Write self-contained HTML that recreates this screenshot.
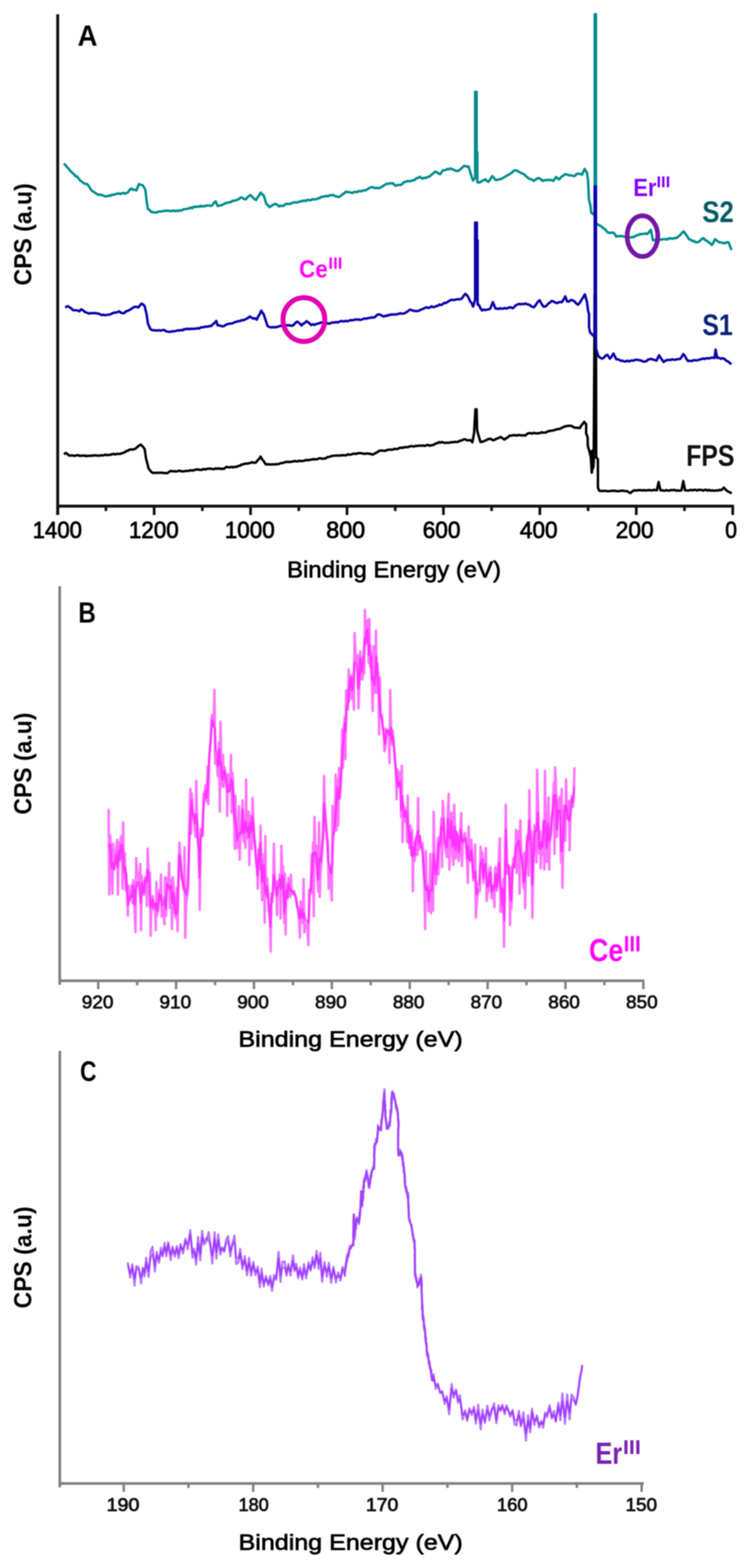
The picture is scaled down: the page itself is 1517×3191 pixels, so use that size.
<!DOCTYPE html>
<html><head><meta charset="utf-8"><title>XPS spectra</title>
<style>html,body{margin:0;padding:0;background:#fff;} body{width:1517px;height:3191px;overflow:hidden;} svg{display:block;} #w{filter:blur(1px);}</style>
</head><body><div id="w">
<svg width="1517" height="3191" viewBox="0 0 1517 3191">
<rect width="1517" height="3191" fill="#fff"/>
<g stroke="#111" stroke-width="6" fill="none">
<line x1="117.5" y1="29" x2="117.5" y2="1048"/>
<line x1="115" y1="1030" x2="1494.5" y2="1030"/>
</g>
<g stroke="#111" stroke-width="5.5">
<line x1="117.5" y1="1030" x2="117.5" y2="1048"/>
<line x1="215.7" y1="1030" x2="215.7" y2="1040"/>
<line x1="313.9" y1="1030" x2="313.9" y2="1048"/>
<line x1="412.0" y1="1030" x2="412.0" y2="1040"/>
<line x1="510.2" y1="1030" x2="510.2" y2="1048"/>
<line x1="608.4" y1="1030" x2="608.4" y2="1040"/>
<line x1="706.6" y1="1030" x2="706.6" y2="1048"/>
<line x1="804.8" y1="1030" x2="804.8" y2="1040"/>
<line x1="902.9" y1="1030" x2="902.9" y2="1048"/>
<line x1="1001.1" y1="1030" x2="1001.1" y2="1040"/>
<line x1="1099.3" y1="1030" x2="1099.3" y2="1048"/>
<line x1="1197.5" y1="1030" x2="1197.5" y2="1040"/>
<line x1="1295.6" y1="1030" x2="1295.6" y2="1048"/>
<line x1="1393.8" y1="1030" x2="1393.8" y2="1040"/>
<line x1="1492.0" y1="1030" x2="1492.0" y2="1048"/>
</g>
<polyline points="130.1,332.7 133.6,336.7 137.1,340.7 140.6,344.5 144.0,348.6 147.5,351.8 151.0,354.9 154.0,358.7 157.1,359.4 160.1,363.3 163.1,367.2 166.2,369.3 169.2,371.8 173.1,374.1 177.0,374.5 180.5,378.3 184.0,384.0 187.5,388.8 190.8,390.2 194.1,392.9 197.3,394.9 200.6,396.7 203.7,396.0 206.7,396.9 209.8,397.5 212.8,399.4 215.8,399.5 218.9,399.3 222.0,397.7 225.2,398.5 228.3,396.1 231.5,396.5 234.6,395.4 237.9,394.1 241.3,393.4 244.6,395.1 248.0,393.2 251.3,392.8 254.7,394.2 258.0,392.7 261.1,390.6 264.1,386.1 267.2,383.6 270.7,386.0 274.2,386.3 277.7,387.5 282.9,374.5 286.8,376.2 290.7,377.0 296.0,386.0 298.6,409.7 301.2,425.4 304.2,426.9 307.3,430.8 310.3,431.9 313.4,432.1 316.6,432.5 319.7,432.1 322.9,430.4 326.0,430.6 329.5,430.1 333.0,429.4 336.4,429.1 339.9,428.7 343.4,429.0 346.9,429.3 350.0,429.5 353.2,428.1 356.3,429.7 359.5,428.9 362.6,429.3 365.7,428.1 368.8,428.5 372.0,426.9 375.1,425.7 378.2,425.4 381.6,424.6 384.9,424.4 388.3,422.1 391.6,423.6 395.0,420.5 398.3,421.5 401.7,420.2 404.8,420.9 408.0,418.8 411.1,420.5 414.3,419.3 417.4,419.7 420.6,418.2 423.7,418.2 426.9,418.4 430.0,419.0 433.0,417.0 436.1,412.1 439.1,409.7 443.0,418.9 446.3,418.5 449.6,417.9 452.8,417.0 456.1,414.9 459.6,413.4 463.1,412.4 466.6,411.7 470.0,411.2 473.5,408.5 477.0,408.4 480.1,407.7 483.3,406.5 486.4,405.4 489.6,402.1 492.7,401.9 496.6,404.9 500.5,405.8 503.6,401.8 506.6,399.4 509.7,396.7 513.6,400.4 517.5,404.6 521.4,407.1 524.5,401.7 527.5,398.1 530.6,392.0 533.9,395.1 537.1,398.0 542.3,414.9 545.6,417.7 548.9,421.5 552.8,418.9 556.7,416.3 560.6,414.9 564.5,416.5 568.5,420.2 571.5,418.5 574.6,418.9 577.6,418.7 580.6,415.9 583.7,414.7 586.7,414.9 590.0,415.4 593.2,413.7 596.5,412.7 599.8,411.7 603.1,411.9 606.4,411.8 609.6,410.2 612.9,409.7 616.2,409.0 619.4,407.7 622.7,409.2 626.0,406.6 629.2,407.2 632.5,407.6 635.7,405.4 639.0,405.8 642.0,405.5 645.1,405.1 648.1,403.5 651.2,403.0 654.2,400.5 657.3,400.6 660.8,399.8 664.3,398.5 667.8,399.5 671.2,397.5 674.7,397.2 678.2,396.7 681.5,398.9 684.7,399.5 688.0,400.8 691.2,400.6 694.5,397.9 697.8,395.3 701.0,393.3 704.3,390.1 707.6,390.7 710.8,390.9 714.1,391.8 717.4,392.7 720.6,390.9 723.9,390.5 727.1,390.9 730.4,388.8 734.0,389.5 737.7,388.3 741.4,387.5 745.0,387.1 748.3,385.1 751.5,382.9 754.8,381.7 758.1,380.6 761.4,381.9 764.6,382.8 767.9,382.2 771.1,383.2 774.2,382.0 777.4,380.2 780.5,378.1 783.7,376.2 786.8,374.0 790.1,374.3 793.3,373.0 796.6,373.5 799.9,372.7 805.1,378.0 808.4,376.8 811.6,376.6 814.9,376.6 818.1,375.3 823.4,370.1 826.9,369.9 830.4,368.3 833.8,369.2 837.3,367.9 840.8,367.0 844.3,366.2 847.8,362.9 851.2,362.0 854.7,359.7 860.0,363.6 863.2,362.0 866.5,362.1 869.8,360.6 873.0,359.7 876.3,357.8 879.5,354.8 882.8,352.5 886.1,349.2 889.6,350.6 893.0,353.1 896.5,354.5 901.7,346.6 904.8,346.4 908.0,345.8 911.1,343.9 914.3,344.3 917.4,342.7 920.5,344.6 923.7,345.2 926.8,347.0 930.0,348.0 933.1,347.9 936.4,345.3 939.6,342.8 942.9,339.3 946.1,337.5 950.0,339.0 954.0,338.8 957.9,351.8 963.1,367.5 967.5,362.0 967.5,187.0 970.5,187.0 970.5,308.0 972.0,310.0 972.0,371.0 974.9,371.4 978.2,370.8 981.5,368.1 984.7,367.0 988.0,364.9 991.2,368.0 994.5,370.1 998.4,364.8 1002.3,358.4 1005.5,361.5 1008.8,366.2 1012.1,366.2 1015.3,365.1 1018.6,364.6 1021.9,363.6 1025.4,361.2 1028.9,359.6 1032.4,357.1 1035.8,355.7 1039.2,353.2 1042.5,351.3 1045.9,347.6 1049.3,346.6 1052.4,347.1 1055.4,349.1 1058.5,350.5 1061.6,352.5 1064.7,353.1 1067.8,355.4 1071.8,359.3 1075.7,362.3 1079.3,364.6 1082.8,365.1 1086.4,368.2 1089.7,366.2 1092.9,363.6 1096.2,362.3 1100.7,364.2 1105.1,368.2 1108.5,366.8 1111.9,366.8 1115.4,365.9 1118.8,366.2 1122.7,366.5 1126.6,368.2 1132.5,360.3 1138.4,365.2 1142.3,360.5 1146.2,358.0 1150.1,354.5 1153.6,355.0 1157.2,356.3 1160.7,357.1 1164.3,357.0 1167.8,358.4 1171.1,357.7 1174.3,353.9 1177.6,353.5 1181.5,354.2 1185.4,355.4 1190.3,343.7 1195.2,351.5 1197.2,366.2 1198.1,381.9 1199.1,405.4 1202.0,417.1 1204.0,432.8 1208.0,436.0 1211.0,434.0 1211.0,29.0 1213.5,29.0 1213.5,455.0 1219.0,458.0 1222.0,459.2 1225.6,461.6 1229.1,464.9 1232.7,467.1 1236.2,471.8 1239.8,473.9 1243.5,473.8 1247.1,473.3 1250.8,474.6 1254.5,481.2 1258.5,480.4 1262.2,480.9 1265.9,480.0 1269.6,481.3 1273.3,481.5 1277.0,481.4 1280.8,482.2 1284.5,483.3 1288.2,482.5 1291.9,481.7 1295.7,479.2 1299.4,478.5 1303.1,476.2 1306.8,476.5 1310.5,475.9 1314.2,475.3 1317.9,476.2 1321.6,472.2 1325.3,467.7 1329.6,488.9 1333.5,488.4 1337.4,488.6 1341.3,486.8 1345.0,487.9 1348.7,487.1 1352.4,486.4 1356.1,486.8 1359.1,487.4 1362.2,485.0 1365.2,484.9 1368.2,485.7 1371.2,485.5 1374.3,484.1 1377.3,484.6 1381.0,481.5 1384.8,478.6 1388.5,474.0 1392.2,470.8 1395.7,476.0 1399.3,480.8 1402.8,486.8 1406.2,487.6 1409.6,490.5 1413.0,490.3 1416.4,492.9 1419.8,493.1 1423.0,492.0 1426.2,489.1 1429.3,486.1 1432.5,484.6 1435.9,488.5 1439.3,490.1 1442.7,492.7 1446.1,495.2 1449.5,498.4 1452.7,493.8 1455.9,486.8 1460.1,489.9 1464.3,493.1 1467.9,493.3 1471.4,494.4 1475.0,495.2 1479.2,493.2 1483.4,493.1 1486.6,501.3 1489.8,509.0" fill="none" stroke="#008c8c" stroke-width="5" stroke-linejoin="round"/>
<polyline points="130.1,924.4 134.0,921.8 137.2,923.9 140.5,927.0 143.7,927.1 146.9,926.9 150.1,927.4 153.3,927.5 156.4,926.4 159.6,926.4 162.8,928.1 166.0,927.0 169.2,927.5 172.5,926.9 175.8,928.4 179.0,927.3 182.3,927.9 185.6,927.1 188.8,927.4 192.1,926.4 195.4,927.0 198.7,927.1 201.9,927.4 205.2,926.6 208.4,926.8 211.7,926.5 215.0,925.2 218.2,926.4 221.5,925.7 224.8,925.5 228.0,924.5 231.3,923.6 234.6,924.9 237.8,923.7 241.1,923.8 244.3,923.7 247.6,922.6 250.7,921.6 253.9,920.5 257.0,918.0 260.2,917.4 263.3,915.3 266.6,914.5 269.9,914.9 273.1,914.1 276.4,912.7 279.9,909.3 283.3,906.7 286.8,904.8 290.7,908.8 294.6,914.0 297.2,932.2 302.5,953.1 306.4,958.6 310.3,962.3 313.4,962.2 316.6,962.6 319.7,961.9 322.9,962.3 326.0,962.1 329.1,962.0 332.3,962.5 335.4,962.5 338.6,963.1 341.7,962.3 346.9,958.4 350.0,958.8 353.2,959.3 356.3,959.1 359.4,959.4 362.5,958.7 365.7,957.7 368.8,959.1 371.9,959.3 375.1,959.2 378.2,958.4 381.5,958.2 384.8,958.2 388.0,956.8 391.3,957.8 394.6,956.9 397.8,956.0 401.1,955.3 404.4,955.8 407.6,956.3 410.8,956.3 414.0,954.3 417.2,955.5 420.4,954.5 423.6,953.8 426.8,953.8 430.0,954.0 433.3,954.5 436.5,954.7 439.8,953.1 443.1,954.2 446.3,953.1 449.6,954.4 452.8,953.7 456.1,954.0 461.3,950.1 464.8,950.9 468.3,951.1 471.8,950.1 475.2,951.1 478.7,949.7 482.2,950.1 485.5,948.0 488.8,947.7 492.0,945.3 495.3,944.9 498.6,943.6 501.9,943.4 505.1,943.2 508.4,942.3 511.6,941.3 514.9,940.7 518.1,942.1 521.4,941.0 524.5,936.7 527.5,934.1 530.6,929.2 534.1,935.2 537.5,939.4 541.0,944.9 544.3,944.8 547.5,944.9 550.8,945.2 554.1,945.1 557.3,945.0 560.6,944.9 563.9,944.5 567.1,944.5 570.4,943.0 573.7,942.2 576.9,942.1 580.2,940.5 583.4,940.0 586.7,939.7 590.0,940.5 593.2,939.4 596.5,939.3 599.8,938.1 603.1,938.7 606.4,938.9 609.6,937.6 612.9,938.4 616.2,938.1 619.4,937.7 622.7,936.1 626.0,936.7 629.2,935.9 632.5,935.8 635.7,934.7 639.0,934.5 642.5,934.7 646.0,934.5 649.5,932.8 652.9,932.7 656.4,933.7 659.9,933.1 663.0,933.0 666.2,930.5 669.3,929.9 672.5,929.1 675.6,927.9 678.9,927.4 682.1,927.3 685.4,927.0 688.7,927.0 691.9,927.3 695.2,926.5 698.4,926.5 701.7,926.6 705.0,926.7 708.2,924.7 711.5,925.3 714.8,925.1 718.0,923.8 721.3,923.1 724.5,923.8 727.8,922.7 731.2,922.3 734.7,922.3 738.1,922.9 741.6,923.5 745.0,923.2 748.1,922.7 751.3,923.4 754.4,923.6 757.6,924.9 760.7,924.5 764.2,922.2 767.6,920.9 771.1,918.0 774.4,917.0 777.6,917.0 780.9,917.3 784.2,917.4 787.4,916.2 790.7,915.4 793.9,914.9 797.2,915.3 800.5,914.7 803.8,913.4 807.0,914.0 810.3,913.4 813.6,911.4 816.9,911.0 820.1,911.4 823.4,910.1 826.7,910.1 829.9,910.1 833.2,908.8 836.5,908.1 839.7,908.1 843.0,908.7 846.2,907.4 849.5,907.5 852.7,907.0 855.9,907.0 859.1,906.9 862.3,906.7 865.4,907.6 868.6,905.9 871.8,905.5 875.0,907.2 878.2,906.2 881.3,905.7 884.5,904.6 887.6,902.2 890.8,901.9 893.9,899.7 897.0,900.8 900.0,899.6 903.0,900.8 906.1,901.2 909.2,901.1 912.2,901.0 915.2,900.8 918.3,900.1 921.4,900.0 924.4,899.6 927.5,899.1 930.5,899.7 933.8,898.6 937.0,896.7 940.2,896.4 943.5,894.5 947.1,893.9 950.7,896.0 954.3,895.9 957.9,895.8 962.0,900.0 965.5,880.0 966.5,861.0 968.0,833.0 970.5,833.0 971.5,875.0 974.0,885.0 978.3,899.5 981.8,899.1 985.3,897.7 988.8,896.5 992.3,894.5 995.8,893.1 999.3,893.0 1002.7,895.4 1006.2,895.8 1009.5,893.5 1012.8,892.1 1016.0,891.2 1019.3,889.2 1023.2,891.9 1027.1,894.5 1030.6,891.7 1034.1,890.1 1037.6,886.6 1041.1,886.6 1044.6,885.8 1048.0,885.5 1051.5,886.5 1055.0,885.5 1058.5,885.3 1062.2,886.3 1066.0,885.8 1069.7,886.5 1074.6,882.1 1077.7,881.3 1080.8,881.8 1084.0,882.2 1087.1,880.8 1090.2,881.8 1093.3,881.9 1096.4,881.5 1099.5,881.4 1102.7,879.6 1105.8,880.6 1108.9,880.2 1112.2,880.1 1115.4,877.7 1118.7,877.3 1122.0,876.5 1125.2,876.2 1128.5,875.3 1132.2,874.1 1135.8,873.2 1139.4,872.9 1143.1,871.3 1146.8,869.1 1150.4,868.0 1154.1,866.9 1157.8,866.4 1161.2,866.4 1164.7,867.1 1168.1,869.7 1171.6,870.3 1175.0,870.4 1180.5,871.4 1183.5,866.2 1186.6,862.7 1189.6,858.4 1193.6,863.6 1193.5,882.0 1196.5,890.0 1197.0,908.0 1200.0,918.0 1203.0,930.0 1205.0,962.0 1207.0,945.0 1209.0,920.0 1211.0,600.0 1213.5,600.0 1214.0,930.0 1217.5,935.0 1217.5,992.0 1220.0,998.5 1225.0,999.4 1228.1,999.0 1231.1,999.0 1234.2,999.1 1237.3,999.7 1240.3,999.6 1243.4,999.1 1246.5,998.8 1249.5,999.1 1252.6,998.6 1255.6,999.5 1258.7,999.8 1261.8,999.2 1264.8,998.6 1267.9,998.8 1271.0,999.1 1274.0,999.6 1277.1,999.4 1280.4,1002.0 1283.7,1003.4 1287.2,1000.3 1290.8,997.7 1293.9,998.3 1297.0,997.9 1300.1,997.6 1303.3,997.4 1306.4,997.7 1309.5,998.1 1312.6,997.5 1315.7,998.1 1318.8,997.6 1321.9,997.2 1325.0,997.8 1328.2,998.1 1331.3,996.8 1334.4,997.5 1337.5,997.7 1341.1,980.7 1344.7,997.7 1347.8,997.6 1350.9,998.5 1353.9,998.6 1357.0,997.4 1360.1,998.5 1363.2,998.3 1366.2,997.2 1369.3,997.6 1372.4,996.9 1375.5,998.3 1378.6,998.0 1381.6,998.5 1384.7,998.3 1387.8,997.7 1391.3,978.9 1394.9,997.7 1398.0,998.0 1401.0,998.2 1404.1,997.8 1407.2,996.9 1410.3,997.9 1413.3,996.7 1416.4,997.0 1419.5,998.2 1422.5,996.8 1425.6,996.9 1428.7,996.9 1431.8,998.5 1434.8,997.1 1437.9,996.7 1441.0,998.4 1444.0,996.9 1447.1,998.4 1450.2,998.0 1453.2,998.4 1456.3,998.6 1459.4,997.9 1462.5,998.3 1465.5,996.8 1468.6,997.7 1474.0,992.3 1477.6,996.4 1481.2,999.5 1485.7,1001.8 1490.1,1004.0" fill="none" stroke="#000" stroke-width="5" stroke-linejoin="round"/>
<polygon points="1201,918 1209,912 1212,930 1211,950 1206,962 1203,945" fill="#000"/>
<polyline points="132.7,625.7 137.9,623.1 141.4,625.1 144.8,627.3 148.3,630.9 151.6,631.3 154.9,631.4 158.1,631.9 161.4,633.6 165.3,629.6 168.9,631.3 172.5,634.6 176.1,636.2 179.7,637.5 182.8,638.1 186.0,636.8 189.1,637.6 192.3,637.0 195.4,637.5 199.3,638.0 203.2,639.2 207.1,641.4 210.4,640.3 213.6,641.6 216.9,640.9 220.2,640.4 223.4,640.0 226.7,638.8 229.8,637.0 233.0,636.3 236.1,636.0 239.3,635.2 242.4,633.6 246.3,636.4 250.2,637.5 253.5,636.8 256.8,633.2 260.0,632.8 263.3,630.9 266.8,629.1 270.2,626.6 273.7,624.4 277.6,624.3 281.6,625.7 284.9,621.7 288.1,617.9 291.4,619.5 294.6,623.1 298.6,640.1 301.2,658.4 306.4,670.1 310.0,671.8 313.6,672.3 317.2,672.2 320.8,672.7 324.1,671.9 327.3,673.0 330.6,671.9 333.8,671.4 337.3,673.7 340.8,674.9 344.3,675.4 347.8,675.0 351.3,674.3 354.8,674.3 358.2,673.4 361.7,672.3 365.2,672.7 368.4,671.6 371.7,672.2 374.9,669.7 378.2,670.1 381.7,668.8 385.2,670.0 388.6,668.9 392.1,669.3 395.6,668.9 399.1,668.8 402.4,667.8 405.6,668.7 408.9,666.1 412.2,666.2 415.8,665.5 419.3,664.4 422.9,665.0 426.4,663.6 430.0,663.6 433.5,659.8 436.9,657.2 440.4,653.1 443.1,662.3 446.4,662.2 449.6,663.1 452.9,664.2 456.1,663.6 459.4,661.3 462.6,659.9 465.9,659.0 469.2,658.4 472.5,658.2 475.7,657.0 479.0,655.3 482.2,654.7 485.5,653.5 488.8,653.4 492.0,651.5 495.3,651.8 498.6,650.3 501.9,648.9 505.1,647.0 508.4,644.0 512.0,646.2 515.5,648.4 519.1,647.7 522.7,650.5 525.8,643.9 528.8,639.4 531.9,632.2 537.1,640.1 544.9,663.6 548.8,665.6 552.8,666.2 555.9,665.6 559.1,666.5 562.2,665.3 565.3,665.4 568.4,663.8 571.6,663.1 574.7,663.5 578.4,663.0 582.0,661.9 585.7,662.1 589.4,662.0 593.3,663.1 597.2,662.0 600.9,657.9 604.6,654.6 607.7,656.1 610.8,658.8 613.9,662.5 617.3,658.7 620.8,657.2 624.2,653.5 627.3,655.8 630.4,658.3 633.5,661.5 637.1,659.8 640.8,661.2 644.5,659.1 648.1,658.6 651.4,657.2 654.7,656.2 658.0,656.6 661.2,656.0 664.4,656.8 667.5,658.5 670.7,658.6 674.1,657.1 677.5,656.1 681.0,656.5 684.4,655.3 687.8,656.4 691.2,654.5 694.5,653.3 697.8,653.9 701.0,654.1 704.3,652.9 707.6,654.0 710.9,652.4 714.1,651.5 717.4,651.8 720.5,651.3 723.5,650.0 726.6,650.6 729.7,649.9 732.7,651.1 735.8,650.6 738.9,649.5 741.9,648.0 745.0,648.8 748.1,647.7 751.3,647.1 754.4,646.5 757.6,646.1 760.7,646.2 764.2,644.9 767.6,641.0 771.1,639.7 775.0,640.6 779.0,643.6 782.0,644.0 785.1,642.5 788.1,642.8 791.1,640.8 794.2,641.3 797.2,639.7 800.6,639.9 803.9,640.0 807.3,639.7 810.7,638.9 814.1,637.8 817.4,637.9 820.8,638.4 824.0,637.3 827.3,635.4 830.5,633.5 833.8,630.5 836.9,630.6 840.1,631.9 843.2,632.8 846.4,632.9 849.5,633.1 852.6,632.6 855.8,630.6 858.9,629.6 862.1,628.3 865.2,626.6 868.6,625.5 871.9,626.5 875.3,626.0 878.6,623.3 882.0,624.9 885.3,624.4 888.7,622.7 892.0,622.1 895.2,619.7 898.5,620.7 901.7,618.8 905.0,616.3 908.2,616.6 911.5,614.3 914.8,612.2 918.1,610.5 921.3,610.1 924.6,610.6 927.9,609.6 931.1,609.1 934.4,608.9 937.6,608.7 940.9,607.0 944.2,601.8 947.5,597.9 950.8,600.6 954.0,605.7 957.1,612.8 960.2,616.7 963.3,624.0 967.5,610.0 967.5,453.0 971.0,453.0 971.0,489.0 972.5,489.0 972.5,620.0 974.9,620.1 978.1,626.9 981.4,631.8 984.8,630.1 988.2,631.0 991.6,630.1 995.0,629.6 998.4,627.9 1003.6,614.9 1008.8,627.9 1011.9,628.0 1015.1,628.8 1018.2,627.2 1021.4,628.3 1024.5,627.9 1027.6,627.0 1030.7,627.8 1033.8,627.0 1036.9,625.8 1040.0,625.3 1043.9,627.3 1047.0,625.0 1050.0,621.4 1053.1,620.1 1056.5,618.5 1059.9,619.3 1063.2,618.5 1066.6,618.9 1070.0,617.5 1073.4,619.3 1076.8,619.8 1080.2,621.9 1083.6,624.4 1087.0,625.3 1090.9,620.6 1094.9,614.5 1098.8,610.9 1102.7,618.3 1106.6,624.0 1109.8,623.8 1113.1,622.0 1116.6,617.7 1120.1,615.6 1123.6,612.2 1127.5,613.9 1131.4,616.2 1134.7,616.6 1138.0,615.1 1141.2,614.6 1144.5,614.9 1147.8,609.0 1151.0,603.1 1154.9,613.6 1158.4,613.8 1161.9,610.8 1165.4,610.9 1169.3,613.0 1173.2,617.3 1177.1,620.1 1180.4,616.4 1183.7,610.9 1187.3,605.1 1190.9,599.2 1195.4,614.9 1197.5,633.2 1199.4,638.5 1199.4,665.9 1201.4,676.3 1204.5,679.4 1207.5,682.9 1211.0,683.0 1211.0,379.5 1213.5,379.5 1213.5,709.0 1218.4,724.7 1222.3,728.2 1226.2,729.9 1229.7,727.9 1233.2,723.6 1236.7,722.0 1241.9,729.9 1245.5,725.6 1249.1,719.4 1255.0,731.2 1258.1,731.3 1261.2,732.3 1264.4,734.3 1267.5,734.1 1270.6,735.1 1273.9,735.7 1277.2,734.0 1280.4,735.5 1283.7,734.5 1286.8,733.4 1290.0,733.9 1293.6,732.2 1297.2,732.1 1300.4,732.8 1303.6,733.2 1306.9,734.4 1310.1,735.9 1313.3,735.7 1316.5,734.9 1319.6,731.8 1322.8,731.2 1325.9,730.3 1329.5,731.6 1333.1,732.7 1336.7,733.9 1342.1,723.1 1345.1,728.1 1348.1,732.1 1351.1,736.6 1354.7,734.1 1358.2,733.0 1361.8,732.1 1365.1,732.7 1368.5,731.2 1371.8,732.0 1375.2,732.2 1378.5,731.1 1381.9,731.0 1385.2,730.3 1388.3,725.6 1391.5,720.4 1394.8,724.8 1398.0,731.0 1401.3,734.8 1404.9,734.3 1408.5,734.9 1412.1,733.0 1415.7,733.0 1418.8,733.4 1421.9,732.7 1425.0,731.7 1428.0,730.8 1431.1,729.6 1434.2,730.6 1437.3,729.4 1440.9,728.9 1444.5,729.4 1448.0,728.0 1451.6,727.7 1455.2,728.5 1457.0,711.4 1460.6,728.5 1464.2,728.1 1467.8,730.1 1471.4,729.1 1475.0,730.3 1478.6,734.0 1482.2,735.4 1485.8,738.6 1489.4,741.1" fill="none" stroke="#0a00aa" stroke-width="5" stroke-linejoin="round"/>
<ellipse cx="618.8" cy="650.3" rx="42.6" ry="44.6" fill="none" stroke="#e000b0" stroke-width="10"/>
<ellipse cx="1308.2" cy="480.6" rx="31.2" ry="41.5" fill="none" stroke="#7216a6" stroke-width="9.5"/>
<text x="66.5" y="1094.5" font-family='"Liberation Sans", Arial, Helvetica, sans-serif' font-size="47.8" font-weight="normal" fill="#000" stroke="#000" stroke-width="1.5" stroke-linejoin="round" textLength="100.4" lengthAdjust="spacingAndGlyphs">1400</text>
<text x="262.4" y="1094.5" font-family='"Liberation Sans", Arial, Helvetica, sans-serif' font-size="47.8" font-weight="normal" fill="#000" stroke="#000" stroke-width="1.5" stroke-linejoin="round" textLength="101.6" lengthAdjust="spacingAndGlyphs">1200</text>
<text x="457.7" y="1094.5" font-family='"Liberation Sans", Arial, Helvetica, sans-serif' font-size="47.8" font-weight="normal" fill="#000" stroke="#000" stroke-width="1.5" stroke-linejoin="round" textLength="101.7" lengthAdjust="spacingAndGlyphs">1000</text>
<text x="664.2" y="1094.5" font-family='"Liberation Sans", Arial, Helvetica, sans-serif' font-size="47.8" font-weight="normal" fill="#000" stroke="#000" stroke-width="1.5" stroke-linejoin="round" textLength="79.4" lengthAdjust="spacingAndGlyphs">800</text>
<text x="860.7" y="1094.5" font-family='"Liberation Sans", Arial, Helvetica, sans-serif' font-size="47.8" font-weight="normal" fill="#000" stroke="#000" stroke-width="1.5" stroke-linejoin="round" textLength="76.9" lengthAdjust="spacingAndGlyphs">600</text>
<text x="1058.6" y="1094.5" font-family='"Liberation Sans", Arial, Helvetica, sans-serif' font-size="47.8" font-weight="normal" fill="#000" stroke="#000" stroke-width="1.5" stroke-linejoin="round" textLength="76.7" lengthAdjust="spacingAndGlyphs">400</text>
<text x="1253.8" y="1094.5" font-family='"Liberation Sans", Arial, Helvetica, sans-serif' font-size="47.8" font-weight="normal" fill="#000" stroke="#000" stroke-width="1.5" stroke-linejoin="round" textLength="77.1" lengthAdjust="spacingAndGlyphs">200</text>
<text x="1476.8" y="1094.5" font-family='"Liberation Sans", Arial, Helvetica, sans-serif' font-size="47.8" font-weight="normal" fill="#000" stroke="#000" stroke-width="1.5" stroke-linejoin="round" textLength="23.9" lengthAdjust="spacingAndGlyphs">0</text>
<text x="158.0" y="93.0" font-family='"Liberation Sans", Arial, Helvetica, sans-serif' font-size="59.6" font-weight="bold" fill="#000" textLength="40.5" lengthAdjust="spacingAndGlyphs">A</text>
<text x="584.6" y="1175.0" font-family='"Liberation Sans", Arial, Helvetica, sans-serif' font-size="46.5" font-weight="normal" fill="#000" stroke="#000" stroke-width="1.3" stroke-linejoin="round" textLength="435.5" lengthAdjust="spacingAndGlyphs">Binding Energy (eV)</text>
<text transform="translate(64.6,579.2) rotate(-90)" x="-1.9" y="-0.5" font-family='"Liberation Sans", Arial, Helvetica, sans-serif' font-size="49.9" font-weight="bold" fill="#000" textLength="208.1" lengthAdjust="spacingAndGlyphs">CPS (a.u)</text>
<text x="1429.9" y="452.2" font-family='"Liberation Sans", Arial, Helvetica, sans-serif' font-size="61.5" font-weight="bold" fill="#005a64" textLength="64.2" lengthAdjust="spacingAndGlyphs">S2</text>
<text x="1429.9" y="682.0" font-family='"Liberation Sans", Arial, Helvetica, sans-serif' font-size="61.6" font-weight="bold" fill="#0a2277" textLength="62.3" lengthAdjust="spacingAndGlyphs">S1</text>
<text x="1397.2" y="948.2" font-family='"Liberation Sans", Arial, Helvetica, sans-serif' font-size="61.9" font-weight="bold" fill="#111" textLength="98.4" lengthAdjust="spacingAndGlyphs">FPS</text>
<text x="609.1" y="565.2" font-family='"Liberation Sans", Arial, Helvetica, sans-serif' font-size="50.0" font-weight="bold" fill="#ff00ff" textLength="58.1" lengthAdjust="spacingAndGlyphs">Ce</text>
<text x="668.6" y="547.4" font-family='"Liberation Sans", Arial, Helvetica, sans-serif' font-size="34.0" font-weight="bold" fill="#ff00ff" textLength="28.7" lengthAdjust="spacingAndGlyphs">III</text>
<text x="1289.4" y="398.7" font-family='"Liberation Sans", Arial, Helvetica, sans-serif' font-size="49.5" font-weight="bold" fill="#8000ff" textLength="47.2" lengthAdjust="spacingAndGlyphs">Er</text>
<text x="1336.7" y="380.6" font-family='"Liberation Sans", Arial, Helvetica, sans-serif' font-size="30.8" font-weight="bold" fill="#8000ff" textLength="28.1" lengthAdjust="spacingAndGlyphs">III</text>
<g stroke="#808080" stroke-width="5.5" fill="none">
<line x1="121.6" y1="1193" x2="121.6" y2="2004"/>
<line x1="119.5" y1="1996" x2="1312" y2="1996"/>
</g>
<g stroke="#808080" stroke-width="5">
<line x1="200.0" y1="1996" x2="200.0" y2="2013"/>
<line x1="279.3" y1="1996" x2="279.3" y2="2005"/>
<line x1="358.6" y1="1996" x2="358.6" y2="2013"/>
<line x1="437.9" y1="1996" x2="437.9" y2="2005"/>
<line x1="517.1" y1="1996" x2="517.1" y2="2013"/>
<line x1="596.4" y1="1996" x2="596.4" y2="2005"/>
<line x1="675.7" y1="1996" x2="675.7" y2="2013"/>
<line x1="755.0" y1="1996" x2="755.0" y2="2005"/>
<line x1="834.3" y1="1996" x2="834.3" y2="2013"/>
<line x1="913.6" y1="1996" x2="913.6" y2="2005"/>
<line x1="992.9" y1="1996" x2="992.9" y2="2013"/>
<line x1="1072.1" y1="1996" x2="1072.1" y2="2005"/>
<line x1="1151.4" y1="1996" x2="1151.4" y2="2013"/>
<line x1="1230.7" y1="1996" x2="1230.7" y2="2005"/>
<line x1="1310.0" y1="1996" x2="1310.0" y2="2013"/>
</g>
<text x="166.5" y="2052.4" font-family='"Liberation Sans", Arial, Helvetica, sans-serif' font-size="37.5" font-weight="normal" fill="#111" stroke="#111" stroke-width="1.5" stroke-linejoin="round" textLength="64.5" lengthAdjust="spacingAndGlyphs">920</text>
<text x="324.8" y="2052.4" font-family='"Liberation Sans", Arial, Helvetica, sans-serif' font-size="37.5" font-weight="normal" fill="#111" stroke="#111" stroke-width="1.5" stroke-linejoin="round" textLength="64.5" lengthAdjust="spacingAndGlyphs">910</text>
<text x="483.1" y="2052.4" font-family='"Liberation Sans", Arial, Helvetica, sans-serif' font-size="37.5" font-weight="normal" fill="#111" stroke="#111" stroke-width="1.5" stroke-linejoin="round" textLength="64.5" lengthAdjust="spacingAndGlyphs">900</text>
<text x="641.6" y="2052.4" font-family='"Liberation Sans", Arial, Helvetica, sans-serif' font-size="37.5" font-weight="normal" fill="#111" stroke="#111" stroke-width="1.5" stroke-linejoin="round" textLength="64.3" lengthAdjust="spacingAndGlyphs">890</text>
<text x="799.9" y="2052.4" font-family='"Liberation Sans", Arial, Helvetica, sans-serif' font-size="37.5" font-weight="normal" fill="#111" stroke="#111" stroke-width="1.5" stroke-linejoin="round" textLength="64.3" lengthAdjust="spacingAndGlyphs">880</text>
<text x="958.2" y="2052.4" font-family='"Liberation Sans", Arial, Helvetica, sans-serif' font-size="37.5" font-weight="normal" fill="#111" stroke="#111" stroke-width="1.5" stroke-linejoin="round" textLength="64.3" lengthAdjust="spacingAndGlyphs">870</text>
<text x="1116.5" y="2052.4" font-family='"Liberation Sans", Arial, Helvetica, sans-serif' font-size="37.5" font-weight="normal" fill="#111" stroke="#111" stroke-width="1.5" stroke-linejoin="round" textLength="64.3" lengthAdjust="spacingAndGlyphs">860</text>
<text x="1274.8" y="2052.4" font-family='"Liberation Sans", Arial, Helvetica, sans-serif' font-size="37.5" font-weight="normal" fill="#111" stroke="#111" stroke-width="1.5" stroke-linejoin="round" textLength="64.3" lengthAdjust="spacingAndGlyphs">850</text>
<text x="159.6" y="1266.5" font-family='"Liberation Sans", Arial, Helvetica, sans-serif' font-size="59.3" font-weight="bold" fill="#000" textLength="35.6" lengthAdjust="spacingAndGlyphs">B</text>
<text transform="translate(64.7,1655.9) rotate(-90)" x="-1.9" y="-0.5" font-family='"Liberation Sans", Arial, Helvetica, sans-serif' font-size="49.9" font-weight="bold" fill="#000" textLength="207.5" lengthAdjust="spacingAndGlyphs">CPS (a.u)</text>
<text x="485.5" y="2130.3" font-family='"Liberation Sans", Arial, Helvetica, sans-serif' font-size="44.2" font-weight="normal" fill="#000" stroke="#000" stroke-width="1.3" stroke-linejoin="round" textLength="456.8" lengthAdjust="spacingAndGlyphs">Binding Energy (eV)</text>
<polyline points="221.1,1646.0 222.5,1820.6 224.4,1700.2 227.0,1772.5 228.9,1818.6 230.3,1717.0 232.1,1770.2 234.5,1754.1 236.9,1724.6 238.7,1709.0 240.1,1820.6 241.6,1714.4 243.7,1748.5 245.9,1704.7 248.0,1700.5 249.5,1808.8 250.9,1673.6 252.6,1786.5 254.3,1736.0 255.7,1811.0 257.0,1776.9 259.0,1820.5 260.3,1863.7 261.7,1803.0 263.6,1832.2 266.2,1820.2 268.1,1801.0 269.5,1838.0 271.4,1791.3 274.0,1855.3 275.9,1897.0 277.3,1746.0 279.1,1778.0 281.5,1777.0 283.9,1801.9 285.7,1758.0 287.1,1893.0 288.7,1782.9 290.9,1821.0 293.2,1820.3 295.5,1785.3 297.7,1796.8 299.3,1844.0 300.7,1726.5 302.0,1758.1 304.0,1790.5 305.3,1775.5 306.7,1904.8 308.4,1833.3 310.7,1823.2 313.1,1850.5 315.4,1839.1 317.1,1893.0 318.5,1795.0 319.9,1863.6 322.1,1851.2 324.2,1811.3 326.4,1832.4 327.8,1779.4 329.2,1865.6 330.8,1854.6 333.1,1847.7 334.7,1881.3 336.1,1785.0 337.8,1864.2 340.3,1787.0 342.8,1803.3 344.5,1756.0 345.9,1848.0 348.1,1790.7 350.3,1891.0 351.7,1785.0 353.5,1801.5 355.9,1858.4 358.4,1868.6 360.2,1807.0 361.6,1895.0 364.1,1756.0 365.5,1714.8 367.1,1740.6 369.5,1784.2 371.8,1794.3 374.2,1811.0 375.8,1724.6 377.2,1908.7 379.1,1838.8 381.8,1819.5 383.7,1799.0 385.1,1693.0 387.6,1605.0 389.0,1697.0 390.4,1614.0 392.6,1666.3 394.7,1661.2 396.9,1692.9 398.3,1703.0 399.7,1589.0 401.3,1667.3 403.7,1721.1 405.3,1705.0 406.7,1852.0 408.6,1686.9 411.2,1694.7 413.1,1701.0 414.5,1615.0 416.2,1615.8 418.6,1597.7 421.1,1631.1 422.8,1560.0 424.2,1636.4 425.6,1546.6 427.7,1518.4 429.1,1510.4 430.5,1462.6 432.3,1454.8 434.9,1476.5 436.7,1404.0 438.1,1554.0 439.6,1546.3 441.8,1555.8 443.9,1580.3 446.1,1510.9 447.6,1651.7 449.0,1469.0 450.5,1546.0 452.6,1600.3 454.1,1536.5 455.5,1601.7 457.0,1560.5 459.1,1572.9 461.3,1587.6 462.8,1660.4 464.2,1575.7 466.0,1609.2 468.5,1610.9 470.3,1536.5 471.7,1654.0 473.6,1573.0 476.1,1639.7 478.0,1727.8 479.4,1619.0 480.9,1685.0 483.0,1726.2 485.2,1707.4 486.7,1641.0 488.1,1749.6 489.6,1700.1 491.7,1700.0 493.9,1628.7 496.1,1713.0 498.2,1694.5 499.7,1725.7 501.1,1586.5 502.6,1705.4 504.8,1678.5 506.3,1651.7 507.7,1760.4 509.2,1659.8 511.3,1697.9 512.8,1727.8 514.2,1623.5 515.7,1664.3 517.8,1700.9 520.0,1723.8 522.1,1757.9 523.6,1767.0 525.0,1808.3 527.0,1728.4 529.1,1769.0 530.5,1680.0 532.3,1771.3 533.7,1832.2 535.2,1786.2 537.4,1738.2 538.9,1877.8 540.3,1701.7 541.8,1825.2 543.9,1787.0 546.1,1823.1 548.2,1855.5 549.7,1843.0 551.1,1936.5 552.6,1818.0 554.8,1835.8 556.3,1814.8 557.7,1717.0 559.2,1785.1 561.3,1808.3 562.8,1799.6 564.2,1862.6 565.7,1793.6 567.9,1799.0 570.0,1778.8 571.5,1869.0 572.9,1721.3 574.4,1765.5 576.5,1762.5 578.7,1878.4 580.2,1778.0 581.6,1901.7 583.1,1800.0 585.2,1828.4 587.4,1786.7 589.5,1811.7 591.0,1825.6 592.4,1780.0 593.9,1819.6 596.1,1817.9 598.2,1813.0 600.4,1821.0 601.9,1823.5 603.3,1832.0 604.8,1844.4 607.0,1850.7 609.1,1874.1 610.6,1908.3 612.0,1834.3 613.8,1841.7 616.4,1878.2 618.2,1788.7 619.6,1897.4 621.4,1881.9 623.8,1883.9 626.2,1891.3 628.0,1923.5 629.4,1810.4 630.9,1813.7 633.0,1808.9 634.5,1738.7 635.9,1817.0 637.4,1714.6 638.9,1864.8 640.3,1662.6 641.8,1724.8 643.9,1720.8 646.1,1783.4 648.2,1815.3 649.7,1673.5 651.1,1825.6 652.6,1776.3 654.8,1752.5 657.0,1718.8 658.5,1703.0 659.9,1579.0 661.5,1643.3 663.9,1675.7 666.2,1704.8 667.8,1713.7 669.2,1808.8 671.1,1766.4 673.8,1799.0 675.7,1832.5 677.1,1640.0 679.0,1699.0 681.7,1685.7 683.6,1576.4 685.0,1690.0 687.0,1586.6 688.9,1679.4 690.3,1563.0 692.2,1624.8 694.9,1578.0 696.8,1484.0 698.2,1563.0 699.7,1505.4 701.9,1458.3 703.4,1544.8 704.8,1404.8 706.3,1431.7 708.5,1443.9 710.0,1362.6 711.4,1426.0 712.8,1381.5 714.9,1374.8 717.1,1422.8 719.2,1398.3 720.6,1444.4 722.0,1288.6 723.9,1329.2 726.6,1343.8 728.5,1333.5 729.9,1441.8 731.4,1403.1 733.6,1325.7 735.8,1379.7 738.0,1383.0 740.2,1336.2 741.7,1370.5 743.1,1241.0 744.5,1311.4 746.6,1270.2 748.8,1261.8 750.9,1349.6 752.3,1259.6 753.7,1357.3 755.2,1335.1 757.4,1401.3 758.9,1447.0 760.3,1315.0 761.8,1410.7 764.0,1393.7 765.5,1283.4 766.9,1410.0 768.4,1350.7 770.6,1385.5 772.1,1494.6 773.5,1378.4 775.1,1461.0 777.4,1454.1 779.7,1483.6 781.3,1481.4 782.7,1529.0 784.4,1523.5 786.8,1483.7 789.1,1485.5 791.5,1493.1 793.2,1552.7 794.6,1404.8 796.1,1478.2 798.3,1515.1 799.8,1486.7 801.2,1510.4 803.1,1532.1 805.8,1564.6 807.7,1626.6 809.1,1565.9 810.5,1600.1 812.6,1585.5 814.8,1570.4 816.9,1662.7 818.3,1558.0 819.7,1713.7 821.1,1638.7 823.2,1673.1 825.3,1659.8 827.4,1644.3 828.8,1713.7 830.2,1618.7 831.6,1688.1 833.7,1726.3 835.8,1680.0 837.9,1740.9 839.3,1690.0 840.7,1814.0 842.1,1714.8 844.3,1752.0 846.4,1710.8 848.6,1702.2 850.0,1740.0 851.4,1624.0 852.8,1729.0 854.9,1700.4 857.0,1722.9 859.1,1727.5 860.5,1716.0 861.9,1761.0 863.9,1791.6 865.8,1890.6 867.2,1732.0 868.6,1813.0 870.7,1803.4 872.8,1854.6 874.9,1822.7 876.3,1737.5 877.7,1859.0 879.7,1836.0 881.7,1853.0 883.1,1652.0 884.9,1758.6 887.3,1799.4 889.8,1775.7 891.5,1706.0 892.9,1779.6 894.4,1702.9 896.5,1715.0 898.6,1665.4 900.1,1765.0 901.5,1630.0 903.0,1646.5 905.3,1716.3 907.5,1730.1 909.8,1744.3 912.0,1649.1 913.6,1615.5 915.0,1770.0 916.7,1714.2 919.1,1653.8 921.6,1739.7 923.3,1760.0 924.7,1637.6 926.0,1671.3 928.0,1746.9 930.0,1692.4 932.0,1702.5 934.0,1752.1 936.0,1737.6 938.0,1675.8 939.3,1654.7 940.7,1762.5 942.2,1715.1 944.5,1703.7 946.8,1695.1 949.0,1711.6 951.2,1755.6 952.8,1796.8 954.2,1681.6 955.6,1752.4 957.7,1748.3 959.8,1709.1 961.9,1750.7 964.0,1792.4 966.1,1786.9 967.5,1718.4 968.9,1867.8 970.7,1841.9 973.1,1809.3 975.5,1815.3 977.3,1811.4 978.7,1723.3 980.0,1751.2 982.1,1734.4 984.1,1796.7 986.1,1755.8 988.2,1744.6 989.5,1725.7 990.9,1833.5 992.4,1819.3 994.5,1813.4 996.6,1769.2 998.8,1764.4 1001.0,1828.1 1003.1,1804.2 1005.2,1816.5 1006.7,1845.7 1008.1,1765.0 1009.6,1764.9 1011.8,1812.8 1014.0,1782.8 1016.2,1736.3 1017.7,1706.0 1019.1,1855.5 1020.5,1816.8 1022.7,1856.1 1024.8,1789.1 1026.3,1926.6 1027.7,1789.4 1029.9,1637.6 1031.3,1777.0 1032.8,1777.7 1034.9,1760.5 1037.0,1777.8 1038.5,1882.5 1039.9,1765.0 1041.2,1849.5 1043.3,1772.3 1045.3,1746.0 1047.3,1765.5 1049.4,1727.5 1050.7,1689.0 1052.1,1777.0 1053.9,1705.5 1056.3,1691.1 1058.1,1818.8 1059.5,1669.4 1061.2,1733.6 1063.7,1746.3 1066.1,1806.8 1067.9,1735.5 1069.3,1848.2 1070.8,1767.6 1072.9,1704.2 1075.0,1698.6 1076.5,1782.0 1077.9,1608.0 1079.2,1690.8 1081.3,1691.0 1082.6,1711.0 1084.0,1867.8 1085.7,1764.4 1088.2,1679.5 1090.6,1689.0 1092.3,1755.0 1093.7,1566.5 1095.5,1633.1 1097.9,1737.3 1099.7,1691.4 1101.1,1767.4 1102.6,1713.9 1104.7,1738.8 1106.8,1669.0 1108.3,1769.8 1109.7,1569.0 1111.2,1706.0 1113.3,1754.2 1115.4,1668.2 1116.9,1622.9 1118.3,1769.8 1119.6,1715.3 1121.7,1698.9 1123.7,1660.0 1125.7,1643.7 1127.8,1592.6 1129.1,1738.0 1130.5,1561.6 1131.9,1592.2 1134.0,1703.5 1136.1,1635.1 1138.2,1627.5 1140.3,1621.6 1142.4,1755.4 1143.8,1605.7 1145.2,1806.6 1147.0,1712.4 1149.4,1639.9 1151.2,1711.0 1152.6,1586.0 1154.3,1638.5 1156.8,1666.0 1158.5,1630.0 1159.9,1730.6 1161.7,1654.1 1164.1,1620.0 1166.5,1642.2 1168.3,1622.9 1169.7,1561.6" fill="none" stroke="#ff00ff" stroke-opacity="0.55" stroke-width="5" stroke-linejoin="round"/>
<polyline points="221.8,1724.1 224.4,1718.0 227.0,1766.0 229.6,1754.8 232.1,1769.0 234.5,1759.0 236.9,1741.0 239.4,1765.0 241.6,1732.6 243.7,1751.3 245.9,1723.1 248.0,1718.7 250.2,1738.1 252.6,1774.9 255.0,1765.0 257.0,1783.5 259.0,1817.7 261.0,1841.5 263.6,1830.8 266.2,1821.8 268.8,1824.8 271.4,1802.8 274.0,1841.5 276.6,1812.0 279.1,1795.8 281.5,1795.6 283.9,1810.9 286.4,1838.3 288.7,1797.3 290.9,1817.5 293.2,1814.3 295.5,1790.6 297.7,1794.9 300.0,1769.8 302.0,1776.3 304.0,1803.0 306.0,1847.1 308.4,1836.4 310.7,1830.6 313.1,1847.3 315.4,1840.7 317.8,1838.1 319.9,1854.1 322.1,1844.9 324.2,1819.2 326.4,1830.2 328.5,1823.2 330.8,1843.2 333.1,1840.5 335.4,1827.0 337.8,1848.7 340.3,1799.2 342.8,1805.9 345.2,1809.1 348.1,1802.4 351.0,1837.6 353.5,1817.4 355.9,1852.8 358.4,1860.2 360.9,1852.9 364.8,1740.0 367.1,1745.0 369.5,1777.7 371.8,1790.3 374.2,1806.7 376.5,1814.2 379.1,1820.5 381.8,1799.5 384.4,1745.2 388.3,1655.5 390.4,1628.4 392.6,1659.4 394.7,1655.9 396.9,1674.6 399.0,1657.0 401.3,1676.4 403.7,1726.4 406.0,1785.9 408.6,1707.5 411.2,1696.1 413.8,1649.4 416.2,1626.7 418.6,1609.8 421.1,1623.9 423.5,1589.7 425.6,1552.4 427.7,1520.5 429.8,1491.8 432.3,1466.5 434.9,1478.5 437.4,1481.2 439.6,1525.9 441.8,1538.1 443.9,1559.3 446.1,1524.2 448.3,1555.7 450.5,1552.9 452.6,1586.6 454.8,1578.1 457.0,1568.9 459.1,1581.2 461.3,1594.9 463.5,1611.3 466.0,1609.7 468.5,1607.7 471.0,1586.9 473.6,1592.3 476.1,1642.7 478.7,1669.1 480.9,1682.6 483.0,1709.5 485.2,1700.4 487.4,1695.8 489.6,1695.6 491.7,1692.9 493.9,1647.5 496.1,1695.5 498.2,1681.8 500.4,1671.7 502.6,1692.4 504.8,1682.9 507.0,1702.8 509.2,1674.2 511.3,1693.0 513.5,1662.0 515.7,1677.8 517.8,1708.7 520.0,1731.4 522.1,1760.9 524.3,1782.1 527.0,1739.5 529.8,1715.2 533.0,1794.5 535.2,1790.8 537.4,1760.4 539.6,1809.5 541.8,1819.0 543.9,1804.1 546.1,1833.8 548.2,1861.2 550.4,1885.9 552.6,1830.2 554.8,1824.3 557.0,1780.4 559.2,1786.1 561.3,1808.8 563.5,1823.3 565.7,1805.0 567.9,1804.7 570.0,1789.0 572.2,1809.7 574.4,1781.9 576.5,1784.5 578.7,1858.5 580.9,1840.9 583.1,1813.0 585.2,1827.1 587.4,1799.1 589.5,1811.1 591.7,1809.3 593.9,1814.9 596.1,1815.9 598.2,1814.9 600.4,1821.7 602.6,1826.9 604.8,1842.1 607.0,1850.2 609.1,1868.6 611.3,1867.5 613.8,1849.8 616.4,1867.9 618.9,1858.9 621.4,1868.8 623.8,1872.3 626.2,1879.2 628.7,1875.1 630.9,1823.1 633.0,1808.4 635.2,1774.5 637.4,1737.1 639.6,1735.1 641.8,1739.3 643.9,1735.7 646.1,1772.1 648.2,1790.1 650.4,1747.1 652.6,1754.7 654.8,1729.6 657.0,1698.5 659.2,1636.0 661.5,1654.4 663.9,1685.9 666.2,1715.4 668.5,1752.8 671.1,1761.0 673.8,1777.3 676.4,1755.9 679.0,1700.2 681.7,1678.5 684.3,1643.4 687.0,1602.8 689.6,1626.8 692.2,1610.4 694.9,1569.2 697.5,1529.4 699.7,1506.2 701.9,1471.4 704.1,1486.9 706.3,1438.2 708.5,1434.8 710.7,1403.3 712.8,1384.4 714.9,1378.1 717.1,1404.7 719.2,1387.8 721.3,1351.1 723.9,1346.9 726.6,1358.5 729.2,1400.8 731.4,1391.5 733.6,1339.5 735.8,1366.5 738.0,1363.0 740.2,1329.5 742.4,1299.9 744.5,1309.3 746.6,1284.9 748.8,1280.0 750.9,1332.9 753.0,1312.8 755.2,1334.1 757.4,1383.5 759.6,1378.4 761.8,1394.3 764.0,1379.5 766.2,1335.7 768.4,1361.0 770.6,1393.9 772.8,1427.5 775.1,1458.0 777.4,1460.8 779.7,1485.4 782.0,1499.9 784.4,1514.1 786.8,1488.1 789.1,1487.0 791.5,1489.5 793.9,1496.7 796.1,1481.0 798.3,1505.8 800.5,1498.6 803.1,1531.7 805.8,1564.3 808.4,1587.5 810.5,1601.7 812.6,1596.1 814.8,1590.2 816.9,1648.8 819.0,1620.5 821.1,1640.0 823.2,1663.1 825.3,1657.5 827.4,1650.6 829.5,1666.7 831.6,1686.2 833.7,1716.0 835.8,1695.1 837.9,1738.5 840.0,1742.6 842.1,1724.1 844.3,1740.8 846.4,1710.5 848.6,1699.7 850.7,1691.0 852.8,1714.7 854.9,1702.1 857.0,1720.1 859.1,1727.4 861.2,1738.7 863.9,1784.9 866.5,1809.0 868.6,1811.3 870.7,1804.5 872.8,1834.2 874.9,1814.0 877.0,1812.0 879.7,1811.7 882.4,1738.0 884.9,1755.2 887.3,1778.7 889.8,1763.5 892.2,1734.8 894.4,1714.3 896.5,1717.1 898.6,1682.7 900.8,1687.0 903.0,1666.6 905.3,1708.1 907.5,1716.1 909.8,1724.3 912.0,1666.9 914.3,1702.8 916.7,1706.2 919.1,1670.6 921.6,1722.8 924.0,1716.0 926.0,1682.8 928.0,1728.7 930.0,1696.4 932.0,1703.0 934.0,1733.2 936.0,1725.0 938.0,1688.4 940.0,1706.4 942.2,1714.6 944.5,1709.8 946.8,1706.6 949.0,1718.6 951.2,1747.0 953.5,1722.6 955.6,1750.2 957.7,1750.8 959.8,1730.4 961.9,1758.4 964.0,1786.5 966.1,1786.3 968.2,1773.6 970.7,1819.8 973.1,1797.7 975.5,1798.7 978.0,1756.9 980.0,1758.5 982.1,1749.2 984.1,1787.4 986.1,1763.7 988.2,1757.8 990.2,1777.1 992.4,1804.7 994.5,1802.5 996.6,1777.2 998.8,1775.6 1001.0,1815.1 1003.1,1802.1 1005.2,1810.7 1007.4,1795.4 1009.6,1779.1 1011.8,1805.9 1014.0,1785.9 1016.2,1756.1 1018.4,1800.4 1020.5,1810.1 1022.7,1841.4 1024.8,1808.9 1027.0,1872.7 1030.6,1689.2 1032.8,1761.2 1034.9,1762.5 1037.0,1784.5 1039.2,1825.6 1041.2,1833.1 1043.3,1780.8 1045.3,1758.9 1047.3,1764.6 1049.4,1735.7 1051.4,1722.7 1053.9,1718.0 1056.3,1710.8 1058.8,1730.7 1061.2,1742.6 1063.7,1754.9 1066.1,1796.0 1068.6,1784.7 1070.8,1767.6 1072.9,1719.9 1075.0,1706.8 1077.2,1669.8 1079.2,1705.1 1081.3,1717.8 1083.3,1800.4 1085.7,1761.5 1088.2,1697.7 1090.6,1690.6 1093.0,1685.3 1095.5,1653.3 1097.9,1725.0 1100.4,1727.9 1102.6,1714.1 1104.7,1723.0 1106.8,1675.2 1109.0,1669.8 1111.2,1694.1 1113.3,1725.6 1115.4,1676.7 1117.6,1711.0 1119.6,1704.6 1121.7,1691.7 1123.7,1665.2 1125.7,1652.4 1127.8,1618.6 1129.8,1630.2 1131.9,1618.5 1134.0,1688.4 1136.1,1650.7 1138.2,1649.3 1140.3,1649.0 1142.4,1732.5 1144.5,1728.5 1147.0,1702.2 1149.4,1651.0 1151.9,1638.8 1154.3,1646.8 1156.8,1667.5 1159.2,1670.0 1161.7,1655.8 1164.1,1626.5 1166.5,1631.0 1169.0,1600.9" fill="none" stroke="#ff00ff" stroke-opacity="0.55" stroke-width="4.5" stroke-linejoin="round"/>
<text x="1199.2" y="1955.6" font-family='"Liberation Sans", Arial, Helvetica, sans-serif' font-size="64.3" font-weight="bold" fill="#ff00ff" textLength="70.1" lengthAdjust="spacingAndGlyphs">Ce</text>
<text x="1269.9" y="1936.4" font-family='"Liberation Sans", Arial, Helvetica, sans-serif' font-size="43.8" font-weight="bold" fill="#ff00ff" textLength="35.0" lengthAdjust="spacingAndGlyphs">III</text>
<g stroke="#808080" stroke-width="5.5" fill="none">
<line x1="121.8" y1="2138.6" x2="121.8" y2="3027"/>
<line x1="119.5" y1="3019" x2="1311" y2="3019"/>
</g>
<g stroke="#808080" stroke-width="5">
<line x1="252.0" y1="3019" x2="252.0" y2="3036"/>
<line x1="383.8" y1="3019" x2="383.8" y2="3028"/>
<line x1="515.6" y1="3019" x2="515.6" y2="3036"/>
<line x1="647.4" y1="3019" x2="647.4" y2="3028"/>
<line x1="779.2" y1="3019" x2="779.2" y2="3036"/>
<line x1="911.1" y1="3019" x2="911.1" y2="3028"/>
<line x1="1042.9" y1="3019" x2="1042.9" y2="3036"/>
<line x1="1174.7" y1="3019" x2="1174.7" y2="3028"/>
<line x1="1306.5" y1="3019" x2="1306.5" y2="3036"/>
</g>
<text x="216.9" y="3075.3" font-family='"Liberation Sans", Arial, Helvetica, sans-serif' font-size="36.5" font-weight="normal" fill="#111" stroke="#111" stroke-width="1.5" stroke-linejoin="round" textLength="67.1" lengthAdjust="spacingAndGlyphs">190</text>
<text x="485.8" y="3075.3" font-family='"Liberation Sans", Arial, Helvetica, sans-serif' font-size="36.5" font-weight="normal" fill="#111" stroke="#111" stroke-width="1.5" stroke-linejoin="round" textLength="61.5" lengthAdjust="spacingAndGlyphs">180</text>
<text x="744.9" y="3075.3" font-family='"Liberation Sans", Arial, Helvetica, sans-serif' font-size="36.5" font-weight="normal" fill="#111" stroke="#111" stroke-width="1.5" stroke-linejoin="round" textLength="66.3" lengthAdjust="spacingAndGlyphs">170</text>
<text x="1012.1" y="3075.3" font-family='"Liberation Sans", Arial, Helvetica, sans-serif' font-size="36.5" font-weight="normal" fill="#111" stroke="#111" stroke-width="1.5" stroke-linejoin="round" textLength="62.2" lengthAdjust="spacingAndGlyphs">160</text>
<text x="1273.7" y="3075.3" font-family='"Liberation Sans", Arial, Helvetica, sans-serif' font-size="36.5" font-weight="normal" fill="#111" stroke="#111" stroke-width="1.5" stroke-linejoin="round" textLength="64.3" lengthAdjust="spacingAndGlyphs">150</text>
<text x="162.9" y="2199.7" font-family='"Liberation Sans", Arial, Helvetica, sans-serif' font-size="58.1" font-weight="bold" fill="#000" textLength="33.5" lengthAdjust="spacingAndGlyphs">C</text>
<text transform="translate(64.7,2660.9) rotate(-90)" x="-1.9" y="-0.5" font-family='"Liberation Sans", Arial, Helvetica, sans-serif' font-size="49.9" font-weight="bold" fill="#000" textLength="207.5" lengthAdjust="spacingAndGlyphs">CPS (a.u)</text>
<text x="485.8" y="3153.8" font-family='"Liberation Sans", Arial, Helvetica, sans-serif' font-size="45.2" font-weight="normal" fill="#000" stroke="#000" stroke-width="1.3" stroke-linejoin="round" textLength="456.5" lengthAdjust="spacingAndGlyphs">Binding Energy (eV)</text>
<polyline points="260.2,2569.2 265.1,2599.6 269.5,2572.8 273.9,2616.2 277.7,2576.6 282.3,2579.0 287.3,2611.8 290.9,2579.9 294.3,2597.7 297.7,2559.6 302.5,2598.6 306.7,2546.5 310.6,2537.2 315.3,2587.5 319.1,2547.7 323.7,2569.8 327.7,2539.3 331.1,2557.0 335.2,2529.5 338.7,2556.8 342.5,2528.1 347.5,2564.3 351.3,2537.0 356.0,2557.4 360.1,2535.7 363.7,2560.5 367.7,2532.0 372.7,2550.8 377.6,2520.8 382.4,2542.3 387.4,2503.5 392.1,2559.5 395.5,2541.5 399.3,2573.6 403.4,2517.1 407.8,2564.8 411.4,2504.9 415.2,2532.6 420.1,2526.2 424.9,2507.5 428.5,2532.2 432.2,2571.6 437.0,2508.0 440.6,2561.2 444.4,2512.2 448.8,2553.0 452.5,2538.7 456.6,2547.6 460.6,2522.5 464.5,2515.6 469.0,2556.5 472.6,2532.5 477.5,2514.6 480.9,2572.2 485.5,2569.4 488.9,2541.4 493.8,2582.4 498.5,2556.4 503.0,2595.5 507.1,2559.8 511.4,2596.4 515.7,2568.1 520.2,2595.1 524.8,2577.8 529.1,2619.5 532.6,2581.7 537.0,2618.5 541.5,2596.9 546.4,2615.7 550.3,2596.8 553.9,2626.9 558.0,2595.2 562.5,2604.4 567.2,2547.6 571.2,2608.9 574.8,2567.6 579.6,2567.2 583.4,2596.0 587.2,2572.5 591.6,2596.1 596.4,2554.7 599.9,2586.5 603.3,2571.8 607.2,2601.2 610.8,2579.4 615.6,2603.9 619.0,2572.8 623.4,2601.6 628.4,2569.1 632.5,2585.8 636.7,2558.9 640.5,2580.5 644.7,2545.7 648.8,2582.2 652.3,2549.2 655.9,2608.3 660.7,2568.8 665.6,2598.2 669.7,2569.7 674.3,2610.6 678.9,2578.3 683.9,2609.9 688.5,2589.3 693.3,2605.9 697.4,2578.4 701.9,2589.1 702.1,2596.6 702.3,2581.9 702.6,2588.7 703.0,2579.5 703.5,2583.2 703.6,2573.1 704.4,2578.6 704.6,2568.2 705.1,2572.4 705.8,2558.9 707.2,2565.8 706.8,2553.1 708.6,2559.9 709.1,2549.4 710.3,2556.2 711.0,2540.2 711.0,2548.8 712.7,2535.0 714.5,2540.9 717.3,2532.6 719.8,2534.4 719.5,2524.8 719.0,2530.6 719.6,2519.2 720.3,2526.4 720.3,2513.7 719.0,2517.9 719.2,2505.4 719.5,2510.6 719.6,2500.7 720.3,2506.1 719.7,2493.3 719.3,2498.8 720.4,2486.8 719.5,2492.0 720.2,2481.2 719.4,2487.7 719.9,2477.8 719.8,2480.8 720.3,2471.6 720.6,2477.6 720.8,2471.8 720.9,2482.6 720.0,2476.5 721.2,2490.3 721.7,2481.7 721.3,2496.5 720.8,2488.2 720.7,2501.7 721.8,2495.8 721.2,2506.7 722.2,2502.3 721.7,2512.8 721.7,2504.8 722.6,2521.1 722.8,2505.7 722.5,2512.6 723.1,2500.5 722.9,2508.1 723.4,2494.4 725.0,2500.2 725.2,2489.1 724.9,2493.3 725.0,2482.3 725.6,2489.3 726.8,2477.4 728.0,2487.2 729.3,2482.6 731.0,2491.1 731.3,2479.4 731.6,2484.9 731.7,2471.5 732.2,2482.3 732.2,2467.0 733.1,2475.0 733.3,2460.0 733.7,2465.7 734.2,2455.3 733.7,2462.8 734.8,2450.4 733.8,2454.1 734.7,2443.1 734.0,2448.4 735.0,2435.9 734.8,2443.5 735.5,2430.9 735.1,2437.7 735.1,2423.5 735.4,2429.5 736.4,2425.2 735.7,2433.6 735.8,2429.9 736.6,2444.7 736.7,2436.6 736.3,2447.9 737.0,2444.7 738.0,2455.5 737.2,2443.7 737.4,2448.4 738.4,2439.9 738.8,2443.7 738.0,2431.0 739.6,2439.2 739.7,2423.7 739.0,2431.9 740.0,2420.4 740.6,2425.6 739.3,2415.9 740.2,2417.7 740.7,2405.5 741.5,2416.4 740.6,2403.5 741.1,2410.1 741.8,2397.9 743.6,2404.0 744.2,2391.8 744.2,2397.3 746.0,2384.5 747.3,2388.5 746.5,2381.2 746.8,2395.0 747.6,2388.9 748.6,2400.5 749.4,2397.6 750.5,2409.2 749.7,2401.3 750.4,2414.3 751.0,2409.3 751.8,2418.0 753.1,2406.3 752.4,2414.1 752.9,2402.9 753.8,2408.2 753.8,2392.7 754.6,2399.0 755.6,2386.4 756.0,2394.4 757.4,2381.7 757.0,2386.2 759.5,2374.4 761.8,2379.0 761.0,2366.1 762.1,2376.0 762.4,2362.5 761.4,2370.4 762.6,2358.0 762.3,2361.9 761.4,2349.3 762.4,2355.4 761.8,2341.5 762.6,2348.3 762.8,2335.2 762.2,2343.5 761.8,2332.8 763.1,2339.2 763.3,2326.5 764.7,2330.9 765.7,2318.0 767.4,2324.5 768.0,2316.0 768.2,2320.8 768.6,2305.9 768.8,2312.1 769.1,2303.9 769.5,2305.8 769.4,2295.5 770.3,2299.3 769.5,2289.7 772.5,2300.1 776.0,2292.2 776.3,2300.8 776.4,2287.3 775.9,2291.7 776.2,2279.6 777.4,2284.4 777.2,2276.3 777.9,2279.2 778.1,2268.4 778.3,2273.6 779.2,2263.8 779.4,2268.2 779.7,2257.3 779.2,2263.7 780.5,2250.7 779.9,2254.8 780.1,2241.3 780.6,2249.2 781.5,2236.7 781.8,2244.1 781.3,2233.2 781.6,2237.3 782.1,2223.2 781.9,2231.2 782.9,2216.5 783.1,2229.7 783.2,2224.0 782.6,2237.2 783.5,2229.4 782.8,2242.9 783.6,2238.5 784.0,2250.5 783.8,2240.8 783.6,2254.0 784.8,2248.5 783.4,2260.9 784.1,2253.5 785.3,2265.5 785.0,2259.4 784.2,2273.0 784.3,2268.0 785.5,2280.5 785.3,2272.8 786.1,2285.1 786.4,2278.4 787.2,2291.7 787.6,2286.4 787.4,2297.1 787.8,2294.6 791.0,2297.3 792.9,2283.5 793.7,2291.1 794.3,2278.8 794.6,2284.2 794.8,2271.1 794.4,2280.7 795.7,2266.9 795.6,2271.5 794.9,2259.7 796.2,2265.7 796.6,2257.1 797.0,2263.5 796.8,2250.3 797.3,2257.2 796.5,2243.4 797.5,2250.6 796.6,2235.6 797.8,2244.7 797.2,2231.4 798.2,2239.0 798.0,2222.7 798.4,2232.9 799.3,2220.8 799.8,2230.5 802.2,2224.9 803.1,2237.9 803.4,2233.5 805.6,2244.4 805.2,2240.3 805.9,2254.2 807.1,2248.9 807.8,2260.1 808.7,2254.6 810.0,2263.6 808.8,2260.7 810.5,2271.7 810.5,2266.1 810.3,2277.3 810.3,2271.0 810.8,2285.8 811.5,2279.1 811.8,2288.0 811.8,2284.1 811.6,2296.2 811.0,2290.8 811.2,2302.5 810.5,2296.4 811.1,2310.2 810.6,2304.1 810.4,2314.3 811.0,2309.5 810.4,2323.1 810.4,2314.2 810.7,2327.2 810.9,2321.3 810.5,2332.2 810.4,2326.6 810.3,2340.7 810.7,2335.8 811.6,2347.3 810.5,2341.3 811.5,2351.4 811.5,2346.0 813.0,2352.0 814.7,2339.7 815.8,2348.2 817.1,2344.5 817.4,2352.7 818.6,2347.2 819.1,2359.7 820.0,2352.5 820.4,2364.0 820.0,2358.5 820.4,2372.6 822.0,2367.0 821.6,2377.5 822.2,2372.8 822.0,2386.4 822.7,2375.9 823.2,2388.4 823.2,2384.5 824.7,2396.2 823.5,2391.4 824.2,2403.6 824.0,2398.5 824.2,2409.1 825.1,2402.8 824.7,2414.9 824.9,2411.5 827.0,2425.4 827.3,2415.0 827.9,2428.4 828.7,2422.9 829.6,2436.8 831.3,2427.9 831.3,2440.4 830.9,2434.7 831.1,2448.1 830.9,2441.4 832.1,2454.8 831.3,2449.2 831.5,2459.7 832.4,2456.6 832.2,2465.5 832.2,2460.0 832.2,2471.9 832.6,2468.3 832.7,2480.9 832.4,2473.7 833.7,2486.0 834.1,2481.2 835.9,2490.3 835.6,2488.2 837.8,2496.6 838.3,2492.6 838.7,2504.6 838.7,2499.0 840.2,2511.8 839.5,2503.5 840.4,2515.1 841.1,2510.2 841.8,2523.1 842.6,2520.2 842.7,2528.1 844.4,2524.0 844.2,2536.9 843.9,2527.7 843.9,2541.9 844.7,2538.1 845.3,2546.2 844.9,2544.4 844.6,2556.3 844.8,2549.6 845.3,2558.8 844.2,2554.2 845.0,2565.8 844.8,2560.1 844.4,2572.1 844.4,2564.4 845.2,2576.7 844.9,2573.5 845.3,2586.9 844.7,2577.6 844.7,2590.2 845.1,2584.5 845.2,2596.8 845.3,2588.8 846.6,2601.3 846.8,2595.1 848.2,2608.3 847.9,2601.9 849.7,2613.5 849.5,2608.2 850.0,2620.1 851.8,2609.9 853.5,2614.5 854.4,2601.3 856.4,2609.6 857.1,2593.9 857.8,2609.1 858.1,2599.8 858.9,2614.4 858.1,2610.7 857.7,2618.9 858.9,2615.4 858.0,2627.5 858.1,2622.3 858.7,2635.0 858.6,2626.6 859.1,2636.6 858.8,2634.6 858.8,2644.1 859.2,2639.3 859.4,2649.6 859.0,2647.6 860.2,2657.5 859.4,2651.8 859.1,2665.4 860.6,2657.8 860.0,2667.6 860.8,2665.4 860.3,2677.8 861.1,2672.0 860.3,2683.2 861.5,2677.0 861.7,2688.4 862.7,2680.8 863.2,2696.2 863.3,2688.3 863.0,2702.4 864.0,2696.1 864.2,2707.3 864.9,2700.6 866.1,2714.4 865.7,2707.2 865.7,2723.4 866.3,2716.9 866.3,2727.9 867.6,2722.1 867.0,2733.3 866.9,2730.0 868.3,2737.8 868.5,2732.2 869.0,2743.7 868.8,2742.5 868.5,2751.3 869.3,2747.1 869.4,2758.2 871.0,2753.2 871.6,2763.5 872.4,2757.3 872.5,2769.5 872.8,2765.5 873.0,2776.2 874.8,2770.6 875.0,2784.7 875.3,2777.0 876.8,2790.2 876.3,2783.4 877.5,2794.1 878.5,2787.8 877.9,2802.1 878.5,2795.7 879.1,2808.6 879.8,2804.3 881.1,2809.8 882.6,2797.0 887.4,2826.5 891.4,2815.7 896.4,2835.3 900.4,2830.9 905.5,2857.2 909.6,2841.3 914.6,2878.0 919.6,2816.8 923.6,2844.3 928.6,2827.5 932.8,2854.8 936.6,2839.2 942.0,2888.8 947.0,2870.2 951.4,2891.4 955.9,2866.2 960.6,2879.4 965.1,2862.9 969.0,2897.2 973.8,2858.8 978.7,2908.9 982.5,2868.8 987.3,2895.5 992.5,2860.7 996.4,2890.5 1001.3,2871.7 1006.0,2855.6 1010.7,2896.2 1015.0,2859.6 1019.1,2871.4 1022.9,2859.1 1027.7,2878.0 1031.3,2859.8 1035.1,2869.8 1038.9,2883.2 1043.6,2869.4 1047.8,2898.8 1052.0,2900.7 1056.6,2871.3 1060.7,2902.6 1065.9,2874.2 1070.8,2931.9 1075.4,2880.3 1079.6,2914.5 1083.2,2866.9 1088.2,2899.9 1093.2,2880.4 1097.8,2905.2 1102.2,2891.6 1106.0,2905.3 1110.1,2874.5 1113.9,2883.6 1119.1,2860.1 1123.7,2886.8 1127.9,2871.4 1131.7,2893.2 1136.9,2854.8 1141.1,2890.4 1145.1,2836.0 1150.4,2897.6 1154.8,2838.1 1159.9,2888.5 1163.7,2838.1 1168.3,2844.5 1172.4,2859.1 1176.1,2839.6 1181.0,2800.1 1184.0,2790.0 1185.5,2778.0" fill="none" stroke="#8000ff" stroke-opacity="0.55" stroke-width="4.4" stroke-linejoin="round"/>
<polyline points="260.2,2575.3 265.1,2591.6 269.5,2579.1 273.9,2601.8 277.7,2582.4 282.3,2583.0 287.3,2598.7 290.9,2582.3 294.3,2590.6 297.7,2570.1 302.5,2587.3 306.7,2559.2 310.6,2552.8 315.3,2575.9 319.1,2554.4 323.7,2563.6 327.7,2546.6 331.1,2554.1 335.2,2537.4 338.7,2548.4 342.5,2532.2 347.5,2553.1 351.3,2541.6 356.0,2551.9 360.1,2540.8 363.7,2552.5 367.7,2536.4 372.7,2543.7 377.6,2525.5 382.4,2532.3 387.4,2511.0 392.1,2549.8 395.5,2547.1 399.3,2561.3 403.4,2531.1 407.8,2552.3 411.4,2517.5 415.2,2526.3 420.1,2519.4 424.9,2523.9 428.5,2536.9 432.2,2555.3 437.0,2521.9 440.6,2547.2 444.4,2523.5 448.8,2545.9 452.5,2540.4 456.6,2544.7 460.6,2530.7 464.5,2525.7 469.0,2546.4 472.6,2535.5 477.5,2528.1 480.9,2558.2 485.5,2561.0 488.9,2550.2 493.8,2575.2 498.5,2564.7 503.0,2586.0 507.1,2569.8 511.4,2588.5 515.7,2574.6 520.2,2588.5 524.8,2583.9 529.1,2610.1 532.6,2592.5 537.0,2611.7 541.5,2601.7 546.4,2611.9 550.3,2603.2 553.9,2619.0 558.0,2603.9 562.5,2598.7 567.2,2561.5 571.2,2596.5 574.8,2579.9 579.6,2579.6 583.4,2591.2 587.2,2577.5 591.6,2587.7 596.4,2566.5 599.9,2584.3 603.3,2578.8 607.2,2595.6 610.8,2585.3 615.6,2598.1 619.0,2581.2 623.4,2593.9 628.4,2575.8 632.5,2582.4 636.7,2566.3 640.5,2574.5 644.7,2554.4 648.8,2571.5 652.3,2561.8 655.9,2598.4 660.7,2576.8 665.6,2588.6 669.7,2578.1 674.3,2601.6 678.9,2582.8 683.9,2600.7 688.5,2595.4 693.3,2600.6 697.4,2583.6 701.6,2595.0 706.0,2564.6 709.6,2550.0 712.3,2541.0 715.9,2536.7 719.5,2532.3 720.4,2471.2 722.2,2514.3 726.0,2480.0 728.6,2484.6 731.2,2487.4 733.9,2460.4 735.7,2424.5 737.5,2451.4 741.0,2406.5 746.5,2385.0 751.8,2415.5 757.2,2383.2 761.7,2376.0 762.6,2329.3 765.3,2327.0 768.0,2322.0 769.8,2293.4 772.5,2295.5 775.2,2298.8 777.9,2275.4 780.6,2245.0 782.4,2223.3 785.0,2271.8 787.8,2297.0 790.5,2294.2 793.1,2289.8 796.7,2253.9 798.5,2223.3 802.1,2230.5 805.7,2245.0 809.3,2261.0 811.1,2279.0 811.1,2350.9 813.8,2347.9 816.5,2343.7 820.1,2361.6 823.7,2388.6 825.5,2415.5 830.9,2433.5 832.7,2478.4 838.0,2496.3 841.6,2519.7 844.3,2528.7 845.2,2595.0 850.6,2616.7 854.2,2609.1 857.8,2600.5 860.6,2677.5 865.0,2707.0 869.4,2751.0 873.8,2771.6 881.1,2809.8 882.6,2800.9 887.4,2820.1 891.4,2818.4 896.4,2832.8 900.4,2834.3 905.5,2850.8 909.6,2845.4 914.6,2866.9 919.6,2826.2 923.6,2837.6 928.6,2831.4 932.8,2850.1 936.6,2847.9 942.0,2879.2 947.0,2874.3 951.4,2887.3 955.9,2871.0 960.6,2873.8 965.1,2868.5 969.0,2888.9 973.8,2871.9 978.7,2897.6 982.5,2878.0 987.3,2891.8 992.5,2869.7 996.4,2881.0 1001.3,2867.1 1006.0,2864.1 1010.7,2889.6 1015.0,2866.4 1019.1,2868.3 1022.9,2862.7 1027.7,2872.8 1031.3,2864.3 1035.1,2870.3 1038.9,2878.1 1043.6,2872.6 1047.8,2888.5 1052.0,2891.8 1056.6,2880.7 1060.7,2899.6 1065.9,2887.5 1070.8,2916.7 1075.4,2891.3 1079.6,2906.3 1083.2,2874.4 1088.2,2891.9 1093.2,2884.9 1097.8,2899.8 1102.2,2895.1 1106.0,2898.3 1110.1,2878.9 1113.9,2879.8 1119.1,2865.9 1123.7,2883.8 1127.9,2880.2 1131.7,2892.2 1136.9,2862.1 1141.1,2879.1 1145.1,2852.1 1150.4,2883.2 1154.8,2851.9 1159.9,2874.5 1163.7,2847.4 1168.3,2849.9 1172.4,2856.9 1176.1,2844.3 1181.0,2809.9 1184.0,2790.0 1185.5,2778.0" fill="none" stroke="#8000ff" stroke-opacity="0.45" stroke-width="3.6" stroke-linejoin="round"/>
<text x="1212.4" y="2978.8" font-family='"Liberation Sans", Arial, Helvetica, sans-serif' font-size="62.7" font-weight="bold" fill="#7b22b0" textLength="54.5" lengthAdjust="spacingAndGlyphs">Er</text>
<text x="1268.4" y="2959.2" font-family='"Liberation Sans", Arial, Helvetica, sans-serif' font-size="40.9" font-weight="bold" fill="#7b22b0" textLength="36.7" lengthAdjust="spacingAndGlyphs">III</text>
</svg></div>
</body></html>
